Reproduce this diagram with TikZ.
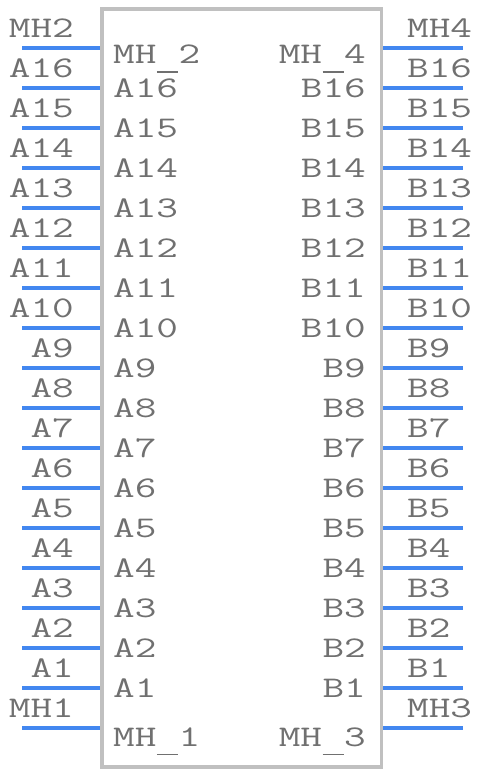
\documentclass[tikz,border=0pt]{standalone}
\usepackage{fontspec}
\newfontfamily\pinfont[FakeStretch=1.4]{Latin Modern Mono}
\definecolor{pinblue}{RGB}{66,135,240}
\definecolor{boxgray}{RGB}{192,192,192}
\definecolor{txtgray}{RGB}{112,112,112}
\newcommand{\uscore}{\makebox[22.05pt]{\rule[-9.4pt]{21pt}{1.7pt}}}
\begin{document}
\begin{tikzpicture}[x=1pt,y=-1pt,
  font={\fontsize{30}{36}\pinfont},
  pinline/.style={draw=pinblue, line width=3.2pt},
  lbl/.style={text=txtgray, inner sep=0pt},
  bodybox/.style={draw=boxgray, line width=3.6pt, inner sep=0pt, minimum width=279.3pt, minimum height=758.3pt}]
\useasboundingbox (0,0) rectangle (484,772);
\node[bodybox] (body) at (241.65,387.85) {};
\foreach \o/\n/\d [count=\i from 0] in {MH2/MH\uscore 2/15.5, A16/A16/9.5, A15/A15/9.5, A14/A14/9.5, A13/A13/9.5, A12/A12/9.5, A11/A11/9.5, A10/A10/9.5, A9/A9/9.5, A8/A8/9.5, A7/A7/9.5, A6/A6/9.5, A5/A5/9.5, A4/A4/9.5, A3/A3/9.5, A2/A2/9.5, A1/A1/9.5, MH1/MH\uscore 1/18}{
  \coordinate (l\i) at (22,48+40*\i);
  \draw[pinline] (l\i) -- (body.west |- l\i);
  \node[lbl, anchor=base east] (lo\i) at (74,37.5+40*\i) {\o};
  \node[lbl, anchor=base west] (li\i) at (113,48+40*\i+\d) {\n};
}
\foreach \o/\n/\d [count=\i from 0] in {MH4/MH\uscore 4/15.5, B16/B16/9.5, B15/B15/9.5, B14/B14/9.5, B13/B13/9.5, B12/B12/9.5, B11/B11/9.5, B10/B10/9.5, B9/B9/9.5, B8/B8/9.5, B7/B7/9.5, B6/B6/9.5, B5/B5/9.5, B4/B4/9.5, B3/B3/9.5, B2/B2/9.5, B1/B1/9.5, MH3/MH\uscore 3/18}{
  \coordinate (r\i) at (463,48+40*\i);
  \draw[pinline] (body.east |- r\i) -- (r\i);
  \node[lbl, anchor=base west] (ro\i) at (407,37.5+40*\i) {\o};
  \node[lbl, anchor=base east] (ri\i) at (366,48+40*\i+\d) {\n};
}
\end{tikzpicture}
\end{document}
